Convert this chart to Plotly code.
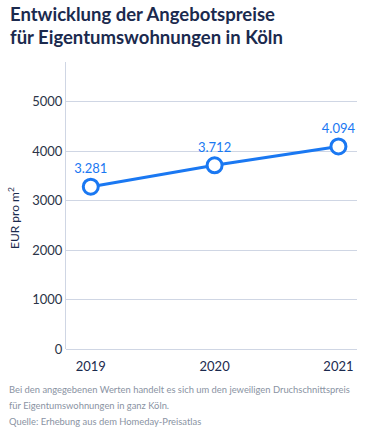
import plotly.graph_objects as go

years = [2019, 2020, 2021]
prices = [3281, 3712, 4094]
y_ticks = [0, 1000, 2000, 3000, 4000, 5000]

title_lines = ["Entwicklung der Angebotspreise", "für Eigentumswohnungen in Köln"]
footnote_lines = ["Bei den angegebenen Werten handelt es sich um den jeweiligen Druchschnittspreis",
                  "für Eigentumswohnungen in ganz Köln.",
                  "Quelle: Erhebung aus dem Homeday-Preisatlas"]
y_title = "EUR pro m<sup>2</sup>"

labels = [f"{v:,}".replace(",", ".") for v in prices]

blue = "#1a78f2"
grid = "#cfd6e4"
font = "Lato"

W, H = 375, 429
L, R, T, B = 66, 18, 62, 80
pw, ph = W - L - R, H - T - B


def px_x(x):
    return (x - L) / pw


def px_y(y):
    return (H - B - y) / ph


fig = go.Figure()
fig.add_trace(go.Scatter(
    x=years, y=prices, mode="lines+markers+text",
    text=labels, textposition="top center",
    textfont=dict(color=blue, size=13, family=font),
    line=dict(color=blue, width=3),
    marker=dict(size=15, color="white", line=dict(color=blue, width=3)),
    cliponaxis=False, hoverinfo="skip",
))

annotations = []
for i, t in enumerate(title_lines):
    annotations.append(dict(text=t, xref="paper", yref="paper", x=px_x(8), y=px_y(14 + 23 * i),
                            xanchor="left", yanchor="middle", align="left", showarrow=False,
                            font=dict(size=18.5, color="#1b2a4e", family=font, weight="bold")))
for i, t in enumerate(footnote_lines):
    annotations.append(dict(text=t, xref="paper", yref="paper", x=px_x(7), y=px_y(389 + 16 * i),
                            xanchor="left", yanchor="middle", align="left", showarrow=False,
                            font=dict(size=9.4, color="#8a93a3", family=font)))
annotations.append(dict(text=y_title, xref="paper", yref="paper", x=px_x(14), y=px_y(218),
                        xanchor="center", yanchor="middle", textangle=-90, showarrow=False,
                        font=dict(size=12, color="#1b2a4e", family=font)))

fig.update_layout(
    width=W, height=H,
    margin=dict(l=L, r=R, t=T, b=B),
    paper_bgcolor="white", plot_bgcolor="white",
    showlegend=False,
    font=dict(family=font, color="#2b3447"),
    xaxis=dict(range=[2018.8, 2021.15], tickvals=years, ticktext=[str(y) for y in years],
               showgrid=False, zeroline=False, showline=False, ticklabelstandoff=8,
               tickfont=dict(size=13, color="#1b2a4e"), ticks=""),
    yaxis=dict(range=[0, 5800], tickvals=y_ticks, showgrid=True, gridcolor=grid, gridwidth=1,
               zeroline=True, zerolinecolor=grid, zerolinewidth=1,
               showline=True, linecolor=grid, linewidth=1,
               tickfont=dict(size=13, color="#2b3447"), ticks=""),
    annotations=annotations,
)

fig.write_html("out.html", config={"displayModeBar": False},
               post_script="document.body.style.margin='0';")
